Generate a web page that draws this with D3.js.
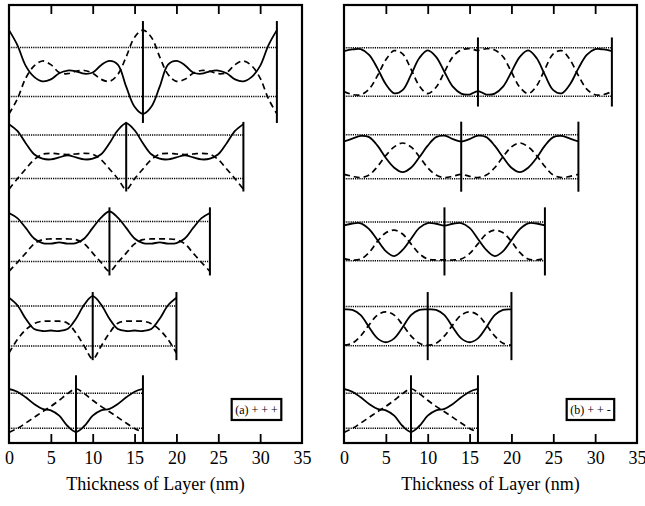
<!DOCTYPE html>
<html>
<head>
<meta charset="utf-8">
<script src="https://cdn.jsdelivr.net/npm/d3@7"></script>
<style>
  html, body { margin: 0; padding: 0; background: #fff; }
  svg { display: block; font-family: "Liberation Serif", "Times New Roman", serif; }
</style>
</head>
<body>
<svg id="chart" width="645" height="506"></svg>
<script>
// Layer stack thicknesses (nm), one row per thickness, top to bottom
const thicknesses = [32, 28, 24, 20, 16];
const xTickValues = [0, 5, 10, 15, 20, 25, 30, 35];
const axisTitle = "Thickness of Layer (nm)";
const labelA = "(a) + + +";
const labelB = "(b) + + -";

// Dotted reference level (± amplitude) for each row
const guideA = [1.0, 0.885, 0.816, 0.816, 0.714];
const guideB = [0.99, 0.9, 0.79, 0.8, 0.714];
// Half-height of the interface markers for each row
const markerA = [2.08, 1.42, 1.39, 1.39, 1.45];
const markerB = [1.41, 1.43, 1.39, 1.39, 1.45];

// Field profiles sampled every 1 nm from 0 to the layer thickness
const solidA1 = [1.71, 1.1, 0.25, -0.2, -0.38, -0.3, -0.05, 0.06, 0.03, -0.07, -0.02, 0.28, 0.45, 0.3, -0.6, -1.42, -1.71,
                 -1.42, -0.6, 0.3, 0.45, 0.28, -0.02, -0.07, 0.03, 0.06, -0.05, -0.3, -0.38, -0.2, 0.25, 1.1, 1.71];
const dashedA1 = [-1.71, -1.1, -0.25, 0.25, 0.45, 0.3, -0.02, -0.07, 0.03, 0.06, -0.05, -0.3, -0.38, -0.1, 0.62, 1.42, 1.71,
                  1.42, 0.62, -0.1, -0.38, -0.3, -0.05, 0.06, 0.03, -0.07, -0.02, 0.3, 0.45, 0.25, -0.25, -1.1, -1.71];

const solidA2 = [1.33, 1.05, 0.55, 0.1, -0.08, -0.11, -0.03, 0.06, -0.03, -0.11, -0.08, 0.1, 0.55, 1.08, 1.36,
                 1.08, 0.55, 0.1, -0.08, -0.11, -0.03, 0.06, -0.03, -0.11, -0.08, 0.1, 0.55, 1.05, 1.33];
const dashedA2 = [-1.33, -0.9, -0.5, -0.12, 0.1, 0.14, 0.11, 0.09, 0.11, 0.14, 0.1, -0.12, -0.5, -0.9, -1.33,
                  -0.9, -0.5, -0.12, 0.1, 0.14, 0.11, 0.09, 0.11, 0.14, 0.1, -0.12, -0.5, -0.9, -1.33];

const solidA3 = [1.16, 0.95, 0.55, 0.12, -0.07, -0.09, -0.04, -0.09, -0.07, 0.12, 0.55, 0.97, 1.22,
                 0.97, 0.55, 0.12, -0.07, -0.09, -0.04, -0.09, -0.07, 0.12, 0.55, 0.95, 1.16];
const dashedA3 = [-1.22, -0.86, -0.48, -0.1, 0.07, 0.1, 0.1, 0.1, 0.07, -0.1, -0.48, -0.86, -1.22,
                  -0.86, -0.48, -0.1, 0.07, 0.1, 0.1, 0.1, 0.07, -0.1, -0.48, -0.86, -1.22];

const solidA4 = [1.16, 0.85, 0.3, -0.12, -0.2, -0.18, -0.2, -0.12, 0.3, 0.88, 1.22,
                 0.88, 0.3, -0.12, -0.2, -0.18, -0.2, -0.12, 0.3, 0.85, 1.16];
const dashedA4 = [-1.1, -0.55, -0.15, 0.1, 0.2, 0.2, 0.2, 0.12, -0.28, -0.82, -1.34,
                  -0.82, -0.28, 0.12, 0.2, 0.2, 0.2, 0.1, -0.15, -0.55, -1.1];

const solidA5 = [0.89, 0.78, 0.55, 0.28, 0.08, 0.02, -0.2, -0.62, -0.86, -0.62, -0.2, 0.02, 0.08, 0.28, 0.55, 0.78, 0.89];
const dashedA5 = [-0.88, -0.72, -0.5, -0.27, -0.04, 0.18, 0.43, 0.7, 0.9, 0.7, 0.43, 0.18, -0.04, -0.27, -0.5, -0.72, -0.88];

const solidB1 = [0.85, 0.92, 0.93, 0.7, 0.15, -0.5, -0.87, -0.74, -0.12, 0.57, 0.88, 0.62, 0.0, -0.6, -0.88, -0.92, -0.78,
                 -0.92, -0.88, -0.6, 0.0, 0.62, 0.88, 0.57, -0.12, -0.74, -0.87, -0.5, 0.15, 0.7, 0.93, 0.92, 0.85];
const dashedB1 = [-0.8, -0.92, -0.93, -0.7, -0.15, 0.5, 0.87, 0.74, 0.12, -0.57, -0.88, -0.62, 0.0, 0.62, 0.9, 0.95, 0.88,
                  0.95, 0.9, 0.62, 0.0, -0.62, -0.88, -0.57, 0.12, 0.74, 0.87, 0.5, -0.15, -0.7, -0.93, -0.92, -0.8];

const solidB2 = [0.62, 0.74, 0.85, 0.8, 0.45, -0.05, -0.45, -0.63, -0.45, -0.02, 0.45, 0.8, 0.86, 0.72, 0.62,
                 0.72, 0.86, 0.8, 0.45, -0.02, -0.45, -0.63, -0.45, -0.05, 0.45, 0.8, 0.85, 0.74, 0.62];
const dashedB2 = [-0.72, -0.8, -0.85, -0.75, -0.4, 0.05, 0.4, 0.56, 0.4, 0.0, -0.45, -0.75, -0.85, -0.8, -0.72,
                  -0.8, -0.85, -0.75, -0.45, 0.0, 0.4, 0.56, 0.4, 0.05, -0.4, -0.75, -0.85, -0.8, -0.72];

const solidB3 = [0.65, 0.73, 0.74, 0.5, 0.05, -0.4, -0.6, -0.35, 0.1, 0.55, 0.75, 0.72, 0.65,
                 0.72, 0.75, 0.55, 0.1, -0.35, -0.6, -0.4, 0.05, 0.5, 0.74, 0.73, 0.65];
const dashedB3 = [-0.7, -0.76, -0.72, -0.45, 0.0, 0.35, 0.46, 0.3, -0.1, -0.5, -0.72, -0.76, -0.75,
                  -0.76, -0.72, -0.5, -0.1, 0.3, 0.46, 0.35, 0.0, -0.45, -0.72, -0.76, -0.7];

const solidB4 = [0.68, 0.66, 0.45, -0.05, -0.5, -0.66, -0.5, -0.05, 0.45, 0.66, 0.68,
                 0.66, 0.45, -0.05, -0.5, -0.66, -0.5, -0.05, 0.45, 0.66, 0.68];
const dashedB4 = [-0.78, -0.7, -0.4, 0.05, 0.45, 0.58, 0.45, 0.05, -0.4, -0.7, -0.78,
                  -0.7, -0.4, 0.05, 0.45, 0.58, 0.45, 0.05, -0.4, -0.7, -0.78];

const solidB5 = [0.89, 0.78, 0.55, 0.28, 0.08, 0.02, -0.2, -0.62, -0.86, -0.62, -0.2, 0.02, 0.08, 0.28, 0.55, 0.78, 0.89];
const dashedB5 = [-0.88, -0.72, -0.5, -0.27, -0.04, 0.18, 0.43, 0.7, 0.9, 0.7, 0.43, 0.18, -0.04, -0.27, -0.5, -0.72, -0.88];

// ---- layout ----
const panelWidth = 293;
const plotTop = 5, plotBottom = 443;
const panels = [
  { left: 9,   label: labelA, guide: guideA, marker: markerA,
    solid: [solidA1, solidA2, solidA3, solidA4, solidA5],
    dashed: [dashedA1, dashedA2, dashedA3, dashedA4, dashedA5] },
  { left: 344, label: labelB, guide: guideB, marker: markerB,
    solid: [solidB1, solidB2, solidB3, solidB4, solidB5],
    dashed: [dashedB1, dashedB2, dashedB3, dashedB4, dashedB5] }
];

const svg = d3.select("#chart");
const rowY = d3.scalePoint().domain(thicknesses).range([72, 410.8]);
const amp = d3.scaleLinear().domain([-1, 1]).range([24.5, -24.5]);

panels.forEach((p, pi) => {
  const x = d3.scaleLinear().domain([0, 35]).range([p.left, p.left + panelWidth]);
  const g = svg.append("g");

  const clipId = "plot-clip-" + pi;
  svg.append("clipPath").attr("id", clipId)
    .append("rect")
    .attr("x", p.left).attr("y", plotTop)
    .attr("width", panelWidth).attr("height", plotBottom - plotTop);

  const plot = g.append("g").attr("clip-path", `url(#${clipId})`);

  thicknesses.forEach((L, ri) => {
    const cy = rowY(L);
    const yv = v => cy + amp(v) - amp(0);
    const row = plot.append("g");

    // dotted reference levels
    [p.guide[ri], -p.guide[ri]].forEach(level => {
      row.append("line")
        .attr("x1", x(0)).attr("x2", x(L))
        .attr("y1", yv(level)).attr("y2", yv(level))
        .attr("stroke", "#000").attr("stroke-width", 1.5)
        .attr("stroke-dasharray", "1.2,1");
    });

    const line = d3.line()
      .x((d, i) => x(i))
      .y(d => yv(d))
      .curve(d3.curveCatmullRom.alpha(0.5));

    row.append("path").datum(p.dashed[ri])
      .attr("d", line).attr("fill", "none")
      .attr("stroke", "#000").attr("stroke-width", 1.7)
      .attr("stroke-dasharray", "6,4");

    row.append("path").datum(p.solid[ri])
      .attr("d", line).attr("fill", "none")
      .attr("stroke", "#000").attr("stroke-width", 1.8);

    // interface markers at the middle and at the end of the stack
    [L / 2, L].forEach(pos => {
      row.append("line")
        .attr("x1", x(pos)).attr("x2", x(pos))
        .attr("y1", yv(p.marker[ri])).attr("y2", yv(-p.marker[ri]))
        .attr("stroke", "#000").attr("stroke-width", 2);
    });
  });

  // ticks (inward) along bottom and top
  const axB = g.append("g").attr("transform", `translate(0,${plotBottom})`)
    .call(d3.axisBottom(x).tickValues(xTickValues).tickSizeInner(-9).tickSizeOuter(0).tickPadding(8));
  axB.select(".domain").remove();
  axB.attr("font-family", null).attr("font-size", null);
  axB.selectAll(".tick text").attr("font-size", 18).attr("fill", "#000");
  axB.selectAll(".tick line").attr("stroke-width", 1.8)
    .filter(d => d === 0 || d === 35).remove();

  const axT = g.append("g").attr("transform", `translate(0,${plotTop})`)
    .call(d3.axisTop(x).tickValues(xTickValues).tickSizeInner(-9).tickSizeOuter(0).tickFormat(""));
  axT.select(".domain").remove();
  axT.selectAll(".tick line").attr("stroke-width", 1.8)
    .filter(d => d === 0 || d === 35).remove();

  // frame
  g.append("rect")
    .attr("x", x(0)).attr("y", plotTop)
    .attr("width", panelWidth).attr("height", plotBottom - plotTop)
    .attr("fill", "none").attr("stroke", "#000").attr("stroke-width", 2.2);

  // axis title
  g.append("text")
    .attr("x", (x(0) + x(35)) / 2).attr("y", 490)
    .attr("text-anchor", "middle").attr("font-size", 18).attr("fill", "#000")
    .text(axisTitle);

  // panel label box, sized to its text
  const bx = x(26.6), by = 399, bh = 21;
  const box = g.append("rect")
    .attr("x", bx).attr("y", by).attr("height", bh)
    .attr("fill", "#fff").attr("stroke", "#000").attr("stroke-width", 2.2);
  const label = g.append("text")
    .attr("x", bx + 3.5).attr("y", by + bh / 2 + 4.3)
    .attr("font-size", 12).attr("fill", "#000")
    .text(p.label);
  const tw = label.node().getComputedTextLength();
  box.attr("width", tw + 7);
});
</script>
</body>
</html>
